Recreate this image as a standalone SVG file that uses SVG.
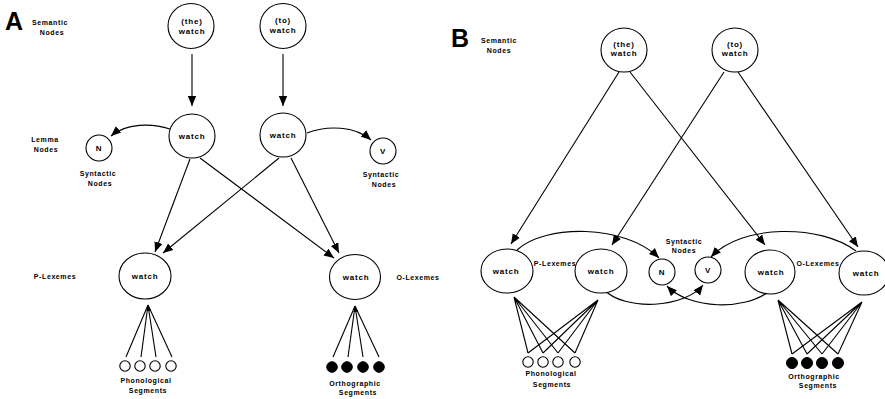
<svg xmlns="http://www.w3.org/2000/svg" width="885" height="399" viewBox="0 0 885 399">
<style>
text{font-family:"Liberation Sans",Arial,sans-serif;font-weight:bold;fill:#000}
.t{font-size:8px;letter-spacing:0.8px;text-anchor:middle}
.l{font-size:7px;letter-spacing:0.6px;text-anchor:middle}
.big{font-size:25px;letter-spacing:0}
.n{fill:#fff;stroke:#000;stroke-width:1.1}
.f{fill:#000;stroke:#000;stroke-width:1}
.c{fill:none;stroke:#000;stroke-width:1.1}
</style>
<defs>
<marker id="ah" markerUnits="userSpaceOnUse" markerWidth="10" markerHeight="10" viewBox="0 0 10 10" refX="10" refY="5" orient="auto">
<path d="M0,0.8 L10,5 L0,9.2 Z" fill="#000"/>
</marker>
<marker id="sh" markerUnits="userSpaceOnUse" markerWidth="6" markerHeight="6" viewBox="0 0 10 10" refX="10" refY="5" orient="auto">
<path d="M0,1 L10,5 L0,9 Z" fill="#000"/>
</marker>
</defs>
<rect width="885" height="399" fill="#fff"/>

<g id="panel-labels">
<text class="big" x="5" y="30">A</text>
<text class="big" x="451" y="47">B</text>
</g>

<g id="row-labels">
<text class="l" x="50" y="25">Semantic</text>
<text class="l" x="52" y="35">Nodes</text>
<text class="l" x="45" y="142">Lemma</text>
<text class="l" x="46" y="152">Nodes</text>
<text class="l" x="98" y="176">Syntactic</text>
<text class="l" x="100" y="186">Nodes</text>
<text class="l" x="381" y="177">Syntactic</text>
<text class="l" x="384" y="187">Nodes</text>
<text class="l" x="55" y="279">P-Lexemes</text>
<text class="l" x="418" y="280">O-Lexemes</text>
<text class="l" x="146" y="383">Phonological</text>
<text class="l" x="148" y="393">Segments</text>
<text class="l" x="355" y="386">Orthographic</text>
<text class="l" x="358" y="395">Segments</text>
<text class="l" x="499" y="43">Semantic</text>
<text class="l" x="499" y="53">Nodes</text>
<text class="l" x="555" y="266">P-Lexemes</text>
<text class="l" x="684" y="244">Syntactic</text>
<text class="l" x="684" y="253">Nodes</text>
<text class="l" x="818" y="266">O-Lexemes</text>
<text class="l" x="551" y="376">Phonological</text>
<text class="l" x="552" y="387">Segments</text>
<text class="l" x="814" y="379">Orthographic</text>
<text class="l" x="818" y="388">Segments</text>
</g>

<g id="connectors" class="c">
<path d="M192,54 L192,106" marker-end="url(#ah)"/>
<path d="M283,54 L283,106" marker-end="url(#ah)"/>
<path d="M170,129 C152,123 126,123 111,136" marker-end="url(#ah)"/>
<path d="M307,133 C328,125 355,126 371,140" marker-end="url(#ah)"/>
<path d="M190,159 L155,252" marker-end="url(#ah)"/>
<path d="M279,158 L163,253" marker-end="url(#ah)"/>
<path d="M200,158 L334,258" marker-end="url(#ah)"/>
<path d="M291,158 L339,253" marker-end="url(#ah)"/>
<path d="M126,357 L148,305"/>
<path d="M141,357 L148,305"/>
<path d="M156,357 L148,305" marker-end="url(#sh)"/>
<path d="M172,357 L148,305"/>
<path d="M333,357 L355,306"/>
<path d="M348,357 L355,306"/>
<path d="M363,357 L355,306" marker-end="url(#sh)"/>
<path d="M379,357 L355,306"/>
<path d="M619,72 L511,244" marker-end="url(#ah)"/>
<path d="M630,72 L765,245" marker-end="url(#ah)"/>
<path d="M724,72 L612,245" marker-end="url(#ah)"/>
<path d="M738,72 L858,247" marker-end="url(#ah)"/>
<path d="M517,250 C545,224 625,224 659,258" marker-end="url(#ah)"/>
<path d="M856,251 C820,224 742,224 711,257" marker-end="url(#ah)"/>
<path d="M603,289 C625,312 685,308 703,285" marker-end="url(#ah)"/>
<path d="M768,292 C745,310 690,310 667,286" marker-end="url(#ah)"/>
<path d="M528,353 L514,297 M543,353 L514,297 M558,353 L514,297 M575,353 L514,297"/>
<path d="M528,353 L598,300 M543,353 L598,300 M558,353 L598,300 M575,353 L598,300"/>
<path d="M792,354 L778,300 M807,354 L778,300 M822,354 L778,300 M838,354 L778,300"/>
<path d="M792,354 L862,302 M807,354 L862,302 M822,354 L862,302 M838,354 L862,302"/>
</g>

<g id="A-sem-the"><ellipse class="n" cx="191" cy="26" rx="23" ry="22.5"/><text class="t" x="192" y="24">(the)</text><text class="t" x="192" y="34">watch</text></g>
<g id="A-sem-to"><ellipse class="n" cx="283" cy="26" rx="23" ry="22.5"/><text class="t" x="283" y="23">(to)</text><text class="t" x="283" y="33">watch</text></g>
<g id="A-lemma-1"><ellipse class="n" cx="192" cy="136" rx="23" ry="22"/><text class="t" x="192" y="139">watch</text></g>
<g id="A-lemma-2"><ellipse class="n" cx="283" cy="135" rx="23" ry="22"/><text class="t" x="283" y="138">watch</text></g>
<g id="A-syn-N"><circle class="n" cx="99" cy="148" r="13"/><text class="t" x="99" y="151">N</text></g>
<g id="A-syn-V"><circle class="n" cx="383" cy="151" r="13"/><text class="t" x="383" y="154">V</text></g>
<g id="A-plex"><ellipse class="n" cx="145" cy="276" rx="26" ry="23"/><text class="t" x="145" y="279">watch</text></g>
<g id="A-olex"><ellipse class="n" cx="355" cy="277" rx="25.5" ry="22.5"/><text class="t" x="356" y="280">watch</text></g>
<g id="A-phon">
<circle class="n" cx="125" cy="366" r="5.2"/><circle class="n" cx="140" cy="366" r="5.2"/><circle class="n" cx="155" cy="366" r="5.2"/><circle class="n" cx="171" cy="366" r="5.2"/>
</g>
<g id="A-orth">
<circle class="f" cx="332" cy="367" r="5.3"/><circle class="f" cx="347" cy="367" r="5.3"/><circle class="f" cx="363" cy="367" r="5.3"/><circle class="f" cx="379" cy="367" r="5.3"/>
</g>

<g id="B-sem-the"><ellipse class="n" cx="624" cy="50" rx="23" ry="22"/><text class="t" x="624" y="47">(the)</text><text class="t" x="624" y="56">watch</text></g>
<g id="B-sem-to"><ellipse class="n" cx="735" cy="50" rx="23" ry="22"/><text class="t" x="735" y="47">(to)</text><text class="t" x="735" y="56">watch</text></g>
<g id="B-plex-1"><ellipse class="n" cx="507" cy="271" rx="26" ry="22"/><text class="t" x="506" y="274">watch</text></g>
<g id="B-plex-2"><ellipse class="n" cx="601" cy="271" rx="26" ry="22"/><text class="t" x="601" y="274">watch</text></g>
<g id="B-syn-N"><circle class="n" cx="662" cy="272" r="13"/><text class="t" x="662" y="275">N</text></g>
<g id="B-syn-V"><circle class="n" cx="708" cy="270" r="13"/><text class="t" x="708" y="273">V</text></g>
<g id="B-olex-1"><ellipse class="n" cx="770" cy="272" rx="25" ry="22"/><text class="t" x="771" y="275">watch</text></g>
<g id="B-olex-2"><ellipse class="n" cx="864" cy="273" rx="25" ry="22"/><text class="t" x="866" y="276">watch</text></g>
<g id="B-phon">
<circle class="n" cx="528" cy="362" r="5.2"/><circle class="n" cx="543" cy="362" r="5.2"/><circle class="n" cx="558" cy="362" r="5.2"/><circle class="n" cx="575" cy="362" r="5.2"/>
</g>
<g id="B-orth">
<circle class="f" cx="792" cy="363" r="5.5"/><circle class="f" cx="807" cy="363" r="5.5"/><circle class="f" cx="822" cy="363" r="5.5"/><circle class="f" cx="838" cy="363" r="5.5"/>
</g>
</svg>
